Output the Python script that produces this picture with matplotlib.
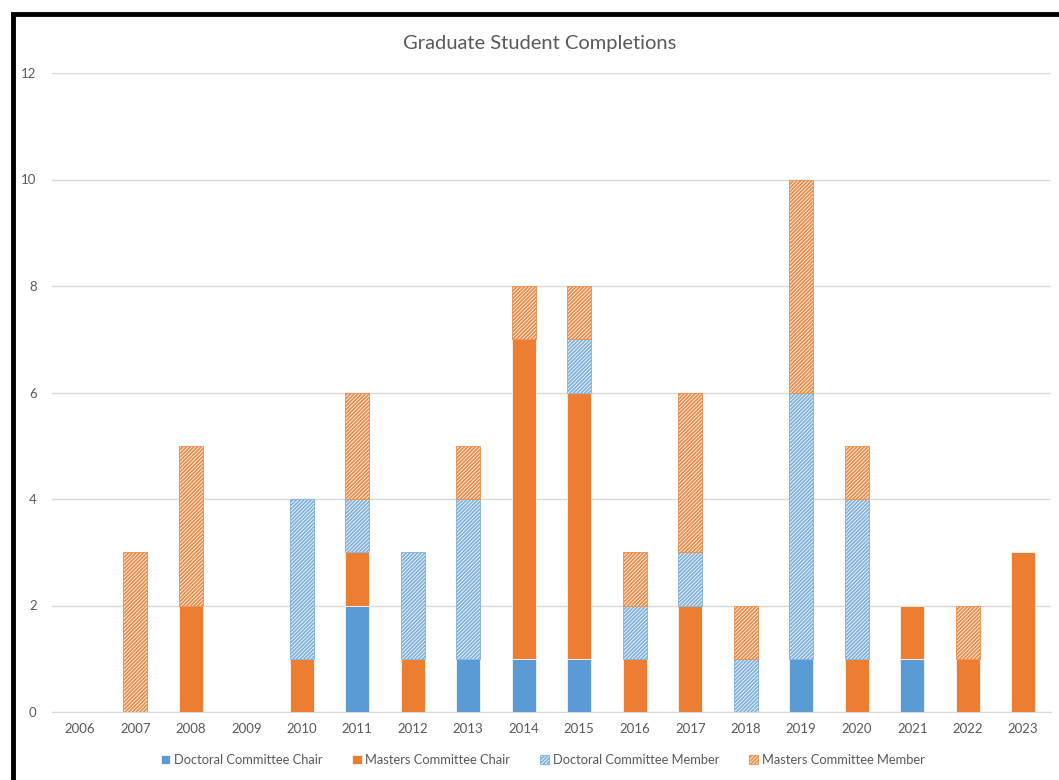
import matplotlib
matplotlib.use("Agg")
import matplotlib.pyplot as plt
from matplotlib.patches import Rectangle
import numpy as np

years = [str(y) for y in range(2006, 2024)]
doctoral_chair  = [0, 0, 0, 0, 0, 2, 0, 1, 1, 1, 0, 0, 0, 1, 0, 1, 0, 0]
masters_chair   = [0, 0, 2, 0, 1, 1, 1, 0, 6, 5, 1, 2, 0, 0, 1, 1, 1, 3]
doctoral_member = [0, 0, 0, 0, 3, 1, 2, 3, 0, 1, 1, 1, 1, 5, 3, 0, 0, 0]
masters_member  = [0, 3, 3, 0, 0, 2, 0, 1, 1, 1, 1, 3, 1, 4, 1, 0, 1, 0]
series_names = ["Doctoral Committee Chair", "Masters Committee Chair",
                "Doctoral Committee Member", "Masters Committee Member"]
yticks = [0, 2, 4, 6, 8, 10, 12]

BLUE = "#5B9BD5"
ORANGE = "#ED7D31"
GRAY = "#595959"

plt.rcParams['font.family'] = ['Lato', 'DejaVu Sans']
plt.rcParams['hatch.linewidth'] = 1.3

fig = plt.figure(figsize=(10.59, 7.8), dpi=100)
ax = fig.add_axes([52/1059, 1-712/780, (1051-52)/1059, (712-73)/780])

x = np.arange(len(years))
w = 0.43
bottom = np.zeros(len(years))
styles = [
    dict(color=BLUE, hatch=None),
    dict(color=ORANGE, hatch=None),
    dict(color="white", edgecolor="#7FB0DE", hatch="/////////"),
    dict(color="white", edgecolor="#F08A45", hatch="/////////"),
]
handles = []
for vals, name, st in zip([doctoral_chair, masters_chair, doctoral_member, masters_member],
                          series_names, styles):
    v = np.array(vals, dtype=float)
    mask = v > 0
    if st["hatch"]:
        b = ax.bar(x[mask], v[mask], w, bottom=bottom[mask], facecolor="white",
                   edgecolor=st["edgecolor"], hatch=st["hatch"], linewidth=0.6,
                   label=name, zorder=3)
    else:
        b = ax.bar(x[mask], v[mask], w, bottom=bottom[mask], color=st["color"],
                   edgecolor="white", linewidth=0.5, label=name, zorder=3)
    handles.append(b)
    bottom = bottom + v

ax.set_xlim(-0.5, len(years) - 0.5)
ax.set_ylim(0, 12)
ax.set_yticks(yticks)
ax.set_xticks(x)
ax.set_xticklabels(years)
ax.yaxis.grid(True, color="#D9D9D9", linewidth=1.0, zorder=0)
ax.set_axisbelow(True)
for s in ["top", "right", "left"]:
    ax.spines[s].set_visible(False)
ax.spines["bottom"].set_color("#D9D9D9")
ax.tick_params(axis="both", length=0, labelsize=9.5, labelcolor=GRAY)
ax.tick_params(axis="y", pad=11)
ax.tick_params(axis="x", pad=8)

fig.text(540/1059, 1-43/780, "Graduate Student Completions", ha="center", va="center",
         fontsize=14.5, color=GRAY)

leg = fig.legend(handles=handles, loc="center", bbox_to_anchor=(543/1059, 1-760/780),
                 ncol=4, frameon=False, fontsize=9.3, labelcolor=GRAY,
                 handlelength=0.7, handleheight=0.7, handletextpad=0.3, columnspacing=2.3)

# black frame (cropped at right and bottom)
fig.patches.append(Rectangle((12.5/1059, -0.1), 1.2, 1 - 14/780 + 0.1,
                             transform=fig.transFigure, fill=False,
                             edgecolor="black", linewidth=3.5, zorder=10))

fig.savefig("out.png", dpi=100)
